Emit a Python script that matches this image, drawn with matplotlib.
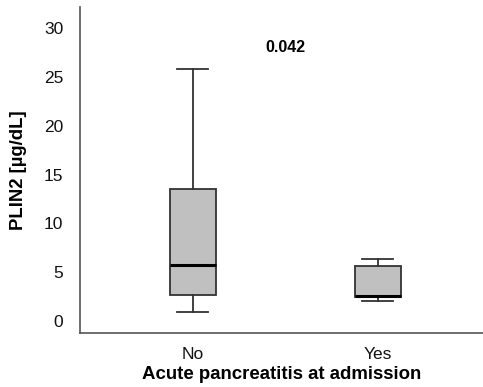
import matplotlib
matplotlib.use("Agg")
import matplotlib.pyplot as plt

plt.rcParams['font.family'] = ['Liberation Sans', 'DejaVu Sans']

# Box statistics (µg/dL)
groups = ['No', 'Yes']
whislo = [0.92, 2.05]
q1 = [2.67, 2.45]
med = [5.75, 2.55]
q3 = [13.5, 5.68]
whishi = [25.8, 6.37]
p_value = '0.042'

stats = []
for i, g in enumerate(groups):
    stats.append({'label': g, 'whislo': whislo[i], 'q1': q1[i], 'med': med[i],
                  'q3': q3[i], 'whishi': whishi[i], 'fliers': []})

fig = plt.figure(figsize=(4.83, 3.87), dpi=100)
ax = fig.add_axes([80 / 483, 1 - 333 / 387, 1 - 80 / 483, (333 - 7) / 387])

edge = '#333333'
ax.bxp(stats, positions=[1, 2], widths=0.25, patch_artist=True, showfliers=False,
       boxprops=dict(facecolor='#c0c0c0', edgecolor=edge, linewidth=1.3),
       whiskerprops=dict(color=edge, linewidth=1.3),
       capprops=dict(color=edge, linewidth=1.3),
       medianprops=dict(color='black', linewidth=2.2),
       capwidths=0.17)

ax.set_xlim(0.39, 2.57)
ax.set_ylim(-1.23, 32.2)
ax.set_yticks([0, 5, 10, 15, 20, 25, 30])

for s in ['top', 'right']:
    ax.spines[s].set_visible(False)
for s in ['left', 'bottom']:
    ax.spines[s].set_color('#555555')
    ax.spines[s].set_linewidth(1.2)

ax.tick_params(axis='both', length=0, labelsize=12.5, colors='#111111')
ax.tick_params(axis='y', pad=12)
ax.tick_params(axis='x', pad=10)

ax.text(1.5, 28.0, p_value, ha='center', va='center', fontsize=11.5, fontweight='bold')

ax.set_xlabel('Acute pancreatitis at admission', fontsize=13.4, fontweight='bold', labelpad=3)
ax.set_ylabel('PLIN2 [µg/dL]', fontsize=13.3, fontweight='bold', labelpad=12)

fig.savefig('out.png', dpi=100)
